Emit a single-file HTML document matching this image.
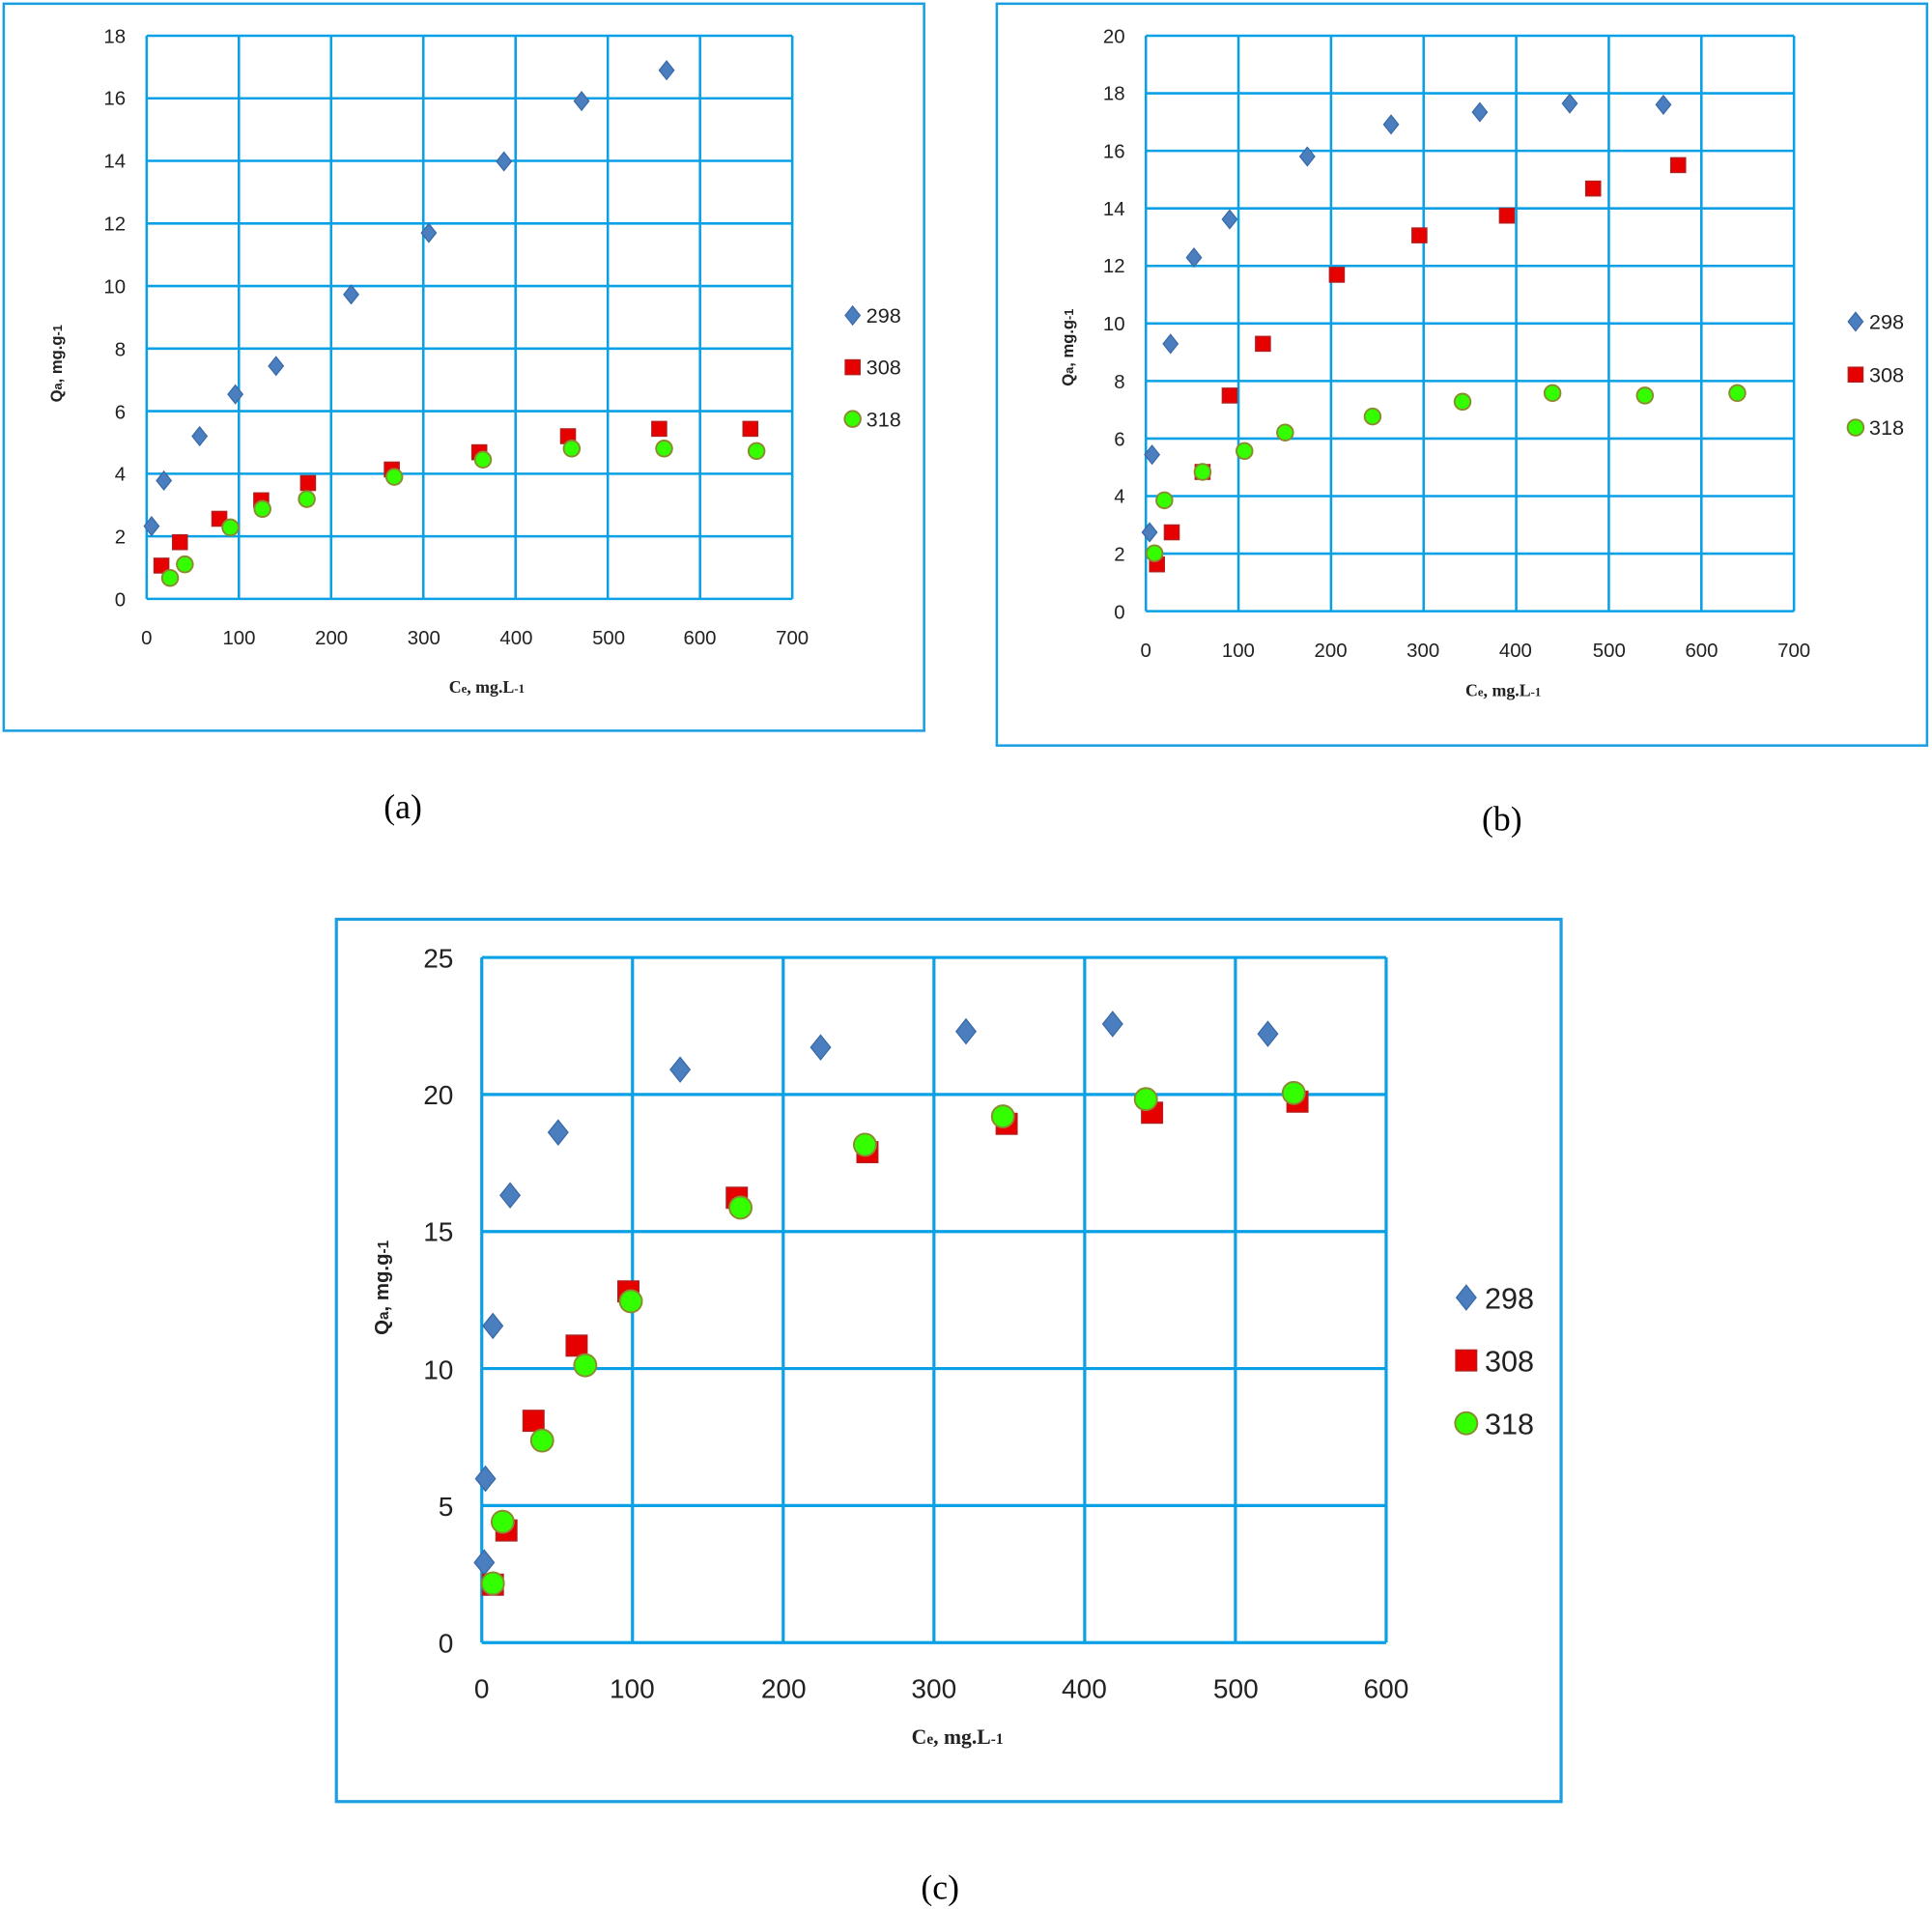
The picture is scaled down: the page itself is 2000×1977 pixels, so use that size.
<!DOCTYPE html>
<html><head><meta charset="utf-8"><style>
html,body{margin:0;padding:0;background:#fff;}
svg{display:block;}
.t{font-family:"Liberation Sans",sans-serif;fill:#222;}
.ti{font-family:"Liberation Serif",serif;font-weight:bold;fill:#222;}
.ts{font-family:"Liberation Sans",sans-serif;font-weight:bold;fill:#222;}
.cap{font-family:"Liberation Serif",serif;font-size:28px;fill:#000;}
</style></head><body>
<svg id="s" width="2000" height="1977" viewBox="0 0 1568 1550" xmlns="http://www.w3.org/2000/svg">
<rect width="1568" height="1550" fill="#fff"/>
<g id="grid"></g>
<g id="marks"></g>
<rect x="3" y="3" width="747" height="590" fill="none" stroke="#1c9ee0" stroke-width="2"/>
<rect x="809" y="3" width="755" height="602" fill="none" stroke="#1c9ee0" stroke-width="2"/>
<rect x="273" y="746" width="994" height="716" fill="none" stroke="#1c9ee0" stroke-width="2.5"/>

<!-- (a) ticks -->
<g class="t" font-size="16" text-anchor="end">
<text x="102" y="492">0</text><text x="102" y="441">2</text><text x="102" y="390">4</text><text x="102" y="340">6</text><text x="102" y="289">8</text><text x="102" y="238">10</text><text x="102" y="187">12</text><text x="102" y="136">14</text><text x="102" y="85">16</text><text x="102" y="35">18</text>
</g>
<g class="t" font-size="16" text-anchor="middle">
<text x="119" y="523">0</text><text x="194" y="523">100</text><text x="269" y="523">200</text><text x="344" y="523">300</text><text x="419" y="523">400</text><text x="494" y="523">500</text><text x="568" y="523">600</text><text x="643" y="523">700</text>
</g>
<text class="ti" font-size="14" x="395" y="562" text-anchor="middle">C<tspan font-size="10">e</tspan>, mg.L<tspan font-size="10">-1</tspan></text>
<text class="ts" font-size="13" transform="translate(50,295) rotate(-90)" text-anchor="middle">Q<tspan font-size="10">a</tspan>, mg.g<tspan font-size="10">-1</tspan></text>
<g class="t" font-size="17"><text x="703" y="262">298</text><text x="703" y="304">308</text><text x="703" y="346">318</text></g>

<!-- (b) ticks -->
<g class="t" font-size="16" text-anchor="end">
<text x="913" y="502">0</text><text x="913" y="455">2</text><text x="913" y="408">4</text><text x="913" y="362">6</text><text x="913" y="315">8</text><text x="913" y="268">10</text><text x="913" y="221">12</text><text x="913" y="175">14</text><text x="913" y="128">16</text><text x="913" y="81">18</text><text x="913" y="35">20</text>
</g>
<g class="t" font-size="16" text-anchor="middle">
<text x="930" y="533">0</text><text x="1005" y="533">100</text><text x="1080" y="533">200</text><text x="1155" y="533">300</text><text x="1230" y="533">400</text><text x="1306" y="533">500</text><text x="1381" y="533">600</text><text x="1456" y="533">700</text>
</g>
<text class="ti" font-size="14" x="1220" y="565" text-anchor="middle">C<tspan font-size="10">e</tspan>, mg.L<tspan font-size="10">-1</tspan></text>
<text class="ts" font-size="13" transform="translate(871,282) rotate(-90)" text-anchor="middle">Q<tspan font-size="10">a</tspan>, mg.g<tspan font-size="10">-1</tspan></text>
<g class="t" font-size="17"><text x="1517" y="267">298</text><text x="1517" y="310">308</text><text x="1517" y="353">318</text></g>

<!-- (c) ticks -->
<g class="t" font-size="22" text-anchor="end">
<text x="368" y="1341">0</text><text x="368" y="1230">5</text><text x="368" y="1119">10</text><text x="368" y="1007">15</text><text x="368" y="896">20</text><text x="368" y="785">25</text>
</g>
<g class="t" font-size="22" text-anchor="middle">
<text x="391" y="1378">0</text><text x="513" y="1378">100</text><text x="636" y="1378">200</text><text x="758" y="1378">300</text><text x="880" y="1378">400</text><text x="1003" y="1378">500</text><text x="1125" y="1378">600</text>
</g>
<text class="ti" font-size="17" x="777" y="1415" text-anchor="middle">C<tspan font-size="12">e</tspan>, mg.L<tspan font-size="12">-1</tspan></text>
<text class="ts" font-size="16" transform="translate(315,1045) rotate(-90)" text-anchor="middle">Q<tspan font-size="12">a</tspan>, mg.g<tspan font-size="12">-1</tspan></text>
<g class="t" font-size="24"><text x="1205" y="1062">298</text><text x="1205" y="1113">308</text><text x="1205" y="1164">318</text></g>

<text class="cap" x="327" y="664" text-anchor="middle">(a)</text>
<text class="cap" x="1219" y="674" text-anchor="middle">(b)</text>
<text class="cap" x="763" y="1541" text-anchor="middle">(c)</text>
</svg>
<script>
var NS="http://www.w3.org/2000/svg";
function el(p,t,a){var e=document.createElementNS(NS,t);for(var k in a)e.setAttribute(k,a[k]);p.appendChild(e);return e;}
var G=document.getElementById("grid"),M=document.getElementById("marks");
function grid(x0,x1,nx,y0,y1,ny,w){
 for(var i=0;i<=nx;i++){var x=x0+(x1-x0)*i/nx;el(G,"line",{x1:x,x2:x,y1:y0,y2:y1,stroke:"#0aa0e6","stroke-width":w});}
 for(var j=0;j<=ny;j++){var y=y0+(y1-y0)*j/ny;el(G,"line",{x1:x0,x2:x1,y1:y,y2:y,stroke:"#0aa0e6","stroke-width":w});}
}
grid(119,643,7,486,29,9,2);
grid(930,1456,7,496,29,10,2);
grid(391,1125,6,1333,777,5,2.5);
function dia(x,y,r){el(M,"polygon",{points:(x)+","+(y-r)+" "+(x+r*0.8)+","+y+" "+x+","+(y+r)+" "+(x-r*0.8)+","+y,fill:"#4a7ebf",stroke:"#3a6aa8","stroke-width":1});}
function sq(x,y,r){el(M,"rect",{x:x-r,y:y-r,width:2*r,height:2*r,fill:"#e60000",stroke:"#b02020","stroke-width":1});}
function ci(x,y,r){el(M,"circle",{cx:x,cy:y,r:r,fill:"#33ff00",stroke:"#8a8a30","stroke-width":1.5});}
function plot(d,f,r){for(var i=0;i<d.length;i+=2)f(d[i],d[i+1],r);}
plot([123,427,133,390,162,354,191,320,224,297,285,239,348,189,409,131,472,82,541,57,692,256],dia,7.5);
plot([131,459,146,440,178,421,212,406,250,392,318,381,389,367,461,354,535,348,609,348,692,298],sq,6);
plot([138,469,150,458,187,428,213,413,249,405,320,387,392,373,464,364,539,364,614,366,692,340],ci,6.5);
plot([933,432,935,369,950,279,969,209,998,178,1061,127,1129,101,1201,91,1274,84,1350,85,1506,261],dia,7.5);
plot([939,458,951,432,976,383,998,321,1025,279,1085,223,1152,191,1223,175,1293,153,1362,134,1506,304],sq,6);
plot([937,449,945,406,976,383,1010,366,1043,351,1114,338,1187,326,1260,319,1335,321,1410,319,1506,347],ci,6.5);
plot([393,1268,394,1200,400,1076,414,970,453,919,552,868,666,850,784,837,903,831,1029,839,1190,1053],dia,10);
plot([400,1286,411,1242,433,1153,468,1092,510,1048,598,972,704,935,817,912,935,903,1053,894,1190,1104],sq,8.5);
plot([400,1285,408,1235,440,1169,475,1108,512,1056,601,980,702,929,814,906,930,892,1050,887,1190,1155],ci,9);
</script>
</body></html>
